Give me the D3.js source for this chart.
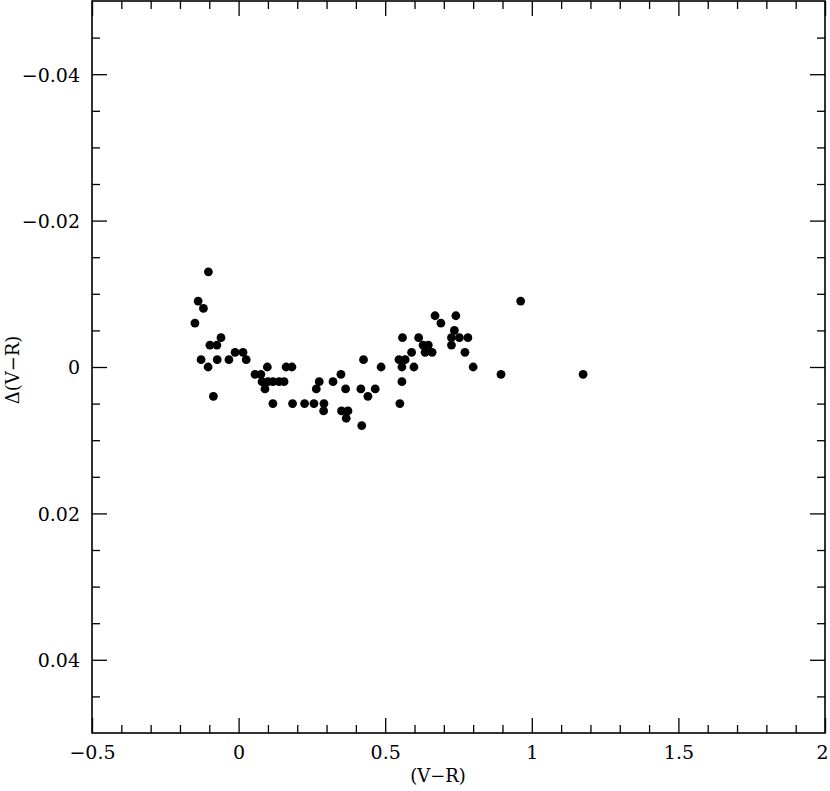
<!DOCTYPE html>
<html>
<head>
<meta charset="utf-8">
<script src="https://cdn.jsdelivr.net/npm/d3@7"></script>
<style>
  html, body { margin: 0; padding: 0; background: #fff; }
  svg { display: block; }
</style>
</head>
<body>
<svg id="chart" width="830" height="791"></svg>
<script>
// ---- data ----
const colorVR = [
  -0.103, -0.138, -0.120, -0.149, -0.060, -0.098, -0.074, -0.012, 0.015, -0.128,
  -0.073, -0.033, 0.026, -0.104, -0.086, 0.098, 0.162, 0.182, 0.056, 0.076,
  0.080, 0.100, 0.117, 0.138, 0.155, 0.090, 0.117, 0.184, 0.225, 0.257,
  0.291, 0.290, 0.275, 0.265, 0.322, 0.349, 0.365, 0.417, 0.466, 0.441,
  0.351, 0.373, 0.367, 0.420, 0.426, 0.486, 0.559, 0.614, 0.629, 0.647,
  0.636, 0.660, 0.590, 0.670, 0.741, 0.690, 0.736, 0.726, 0.753, 0.782,
  0.726, 0.772, 0.547, 0.568, 0.557, 0.598, 0.800, 0.557, 0.550, 0.895,
  0.962, 1.175
];
const deltaVR = [
  -0.013, -0.009, -0.008, -0.006, -0.004, -0.003, -0.003, -0.002, -0.002, -0.001,
  -0.001, -0.001, -0.001, 0.000, 0.004, 0.000, 0.000, 0.000, 0.001, 0.001,
  0.002, 0.002, 0.002, 0.002, 0.002, 0.003, 0.005, 0.005, 0.005, 0.005,
  0.005, 0.006, 0.002, 0.003, 0.002, 0.001, 0.003, 0.003, 0.003, 0.004,
  0.006, 0.006, 0.007, 0.008, -0.001, 0.000, -0.004, -0.004, -0.003, -0.003,
  -0.002, -0.002, -0.002, -0.007, -0.007, -0.006, -0.005, -0.004, -0.004, -0.004,
  -0.003, -0.002, -0.001, -0.001, 0.000, 0.000, 0.000, 0.002, 0.005, 0.001,
  -0.009, 0.001
];
const xMajorTicks = [-0.5, 0, 0.5, 1, 1.5, 2];
const xTickLabels = ["\u22120.5", "0", "0.5", "1", "1.5", "2"];
const yMajorTicks = [-0.04, -0.02, 0, 0.02, 0.04];
const yTickLabels = ["\u22120.04", "\u22120.02", "0", "0.02", "0.04"];
const xTitle = "(V\u2212R)";
const yTitle = "\u0394(V\u2212R)";

// ---- layout ----
const FONT = "'DejaVu Serif', 'Liberation Serif', serif";
const L = 92, R = 825, T = 1, B = 733;
const svg = d3.select("#chart");
const x = d3.scaleLinear().domain([-0.5, 2]).range([L, R]);
const y = d3.scaleLinear().domain([-0.05, 0.05]).range([T, B]);

const xMinor = d3.range(-5, 21).map(i => i / 10).filter(v => !xMajorTicks.some(m => Math.abs(m - v) < 1e-9));
const yMinor = d3.range(-10, 11).map(i => i * 0.005).filter(v => !yMajorTicks.some(m => Math.abs(m - v) < 1e-9) && Math.abs(v) < 0.0499);

const MAJ = 15, MIN = 8;

function styleAxis(g) {
  g.select(".domain").remove();
  g.attr("font-family", FONT);
  g.selectAll(".tick line").attr("stroke", "#000").attr("stroke-width", 1.3);
}

// bottom major ticks with labels
svg.append("g").attr("transform", `translate(0,${B})`)
  .call(d3.axisBottom(x).tickValues(xMajorTicks).tickSize(-MAJ).tickPadding(0)
        .tickFormat((d, i) => xTickLabels[i]))
  .call(styleAxis)
  .call(g => g.selectAll(".tick text").attr("font-size", 19).attr("fill", "#000")
        .attr("y", 26).attr("dy", 0).attr("text-anchor", "middle")
        .attr("dx", (d) => d === 2 ? -3 : 0));
svg.append("g").attr("transform", `translate(0,${B})`)
  .call(d3.axisBottom(x).tickValues(xMinor).tickSize(-MIN).tickFormat(""))
  .call(styleAxis);
// top ticks
svg.append("g").attr("transform", `translate(0,${T})`)
  .call(d3.axisTop(x).tickValues(xMajorTicks).tickSize(-MAJ).tickFormat(""))
  .call(styleAxis);
svg.append("g").attr("transform", `translate(0,${T})`)
  .call(d3.axisTop(x).tickValues(xMinor).tickSize(-MIN).tickFormat(""))
  .call(styleAxis);
// left ticks with labels
svg.append("g").attr("transform", `translate(${L},0)`)
  .call(d3.axisLeft(y).tickValues(yMajorTicks).tickSize(-MAJ).tickPadding(0)
        .tickFormat((d, i) => yTickLabels[i]))
  .call(styleAxis)
  .call(g => g.selectAll(".tick text").attr("font-size", 19).attr("fill", "#000")
        .attr("x", -12).attr("dy", "0.36em").attr("text-anchor", "end"));
svg.append("g").attr("transform", `translate(${L},0)`)
  .call(d3.axisLeft(y).tickValues(yMinor).tickSize(-MIN).tickFormat(""))
  .call(styleAxis);
// right ticks
svg.append("g").attr("transform", `translate(${R},0)`)
  .call(d3.axisRight(y).tickValues(yMajorTicks).tickSize(-MAJ).tickFormat(""))
  .call(styleAxis);
svg.append("g").attr("transform", `translate(${R},0)`)
  .call(d3.axisRight(y).tickValues(yMinor).tickSize(-MIN).tickFormat(""))
  .call(styleAxis);

// frame
svg.append("rect").attr("x", L).attr("y", T).attr("width", R - L).attr("height", B - T)
  .attr("fill", "none").attr("stroke", "#000").attr("stroke-width", 1.6);

// axis titles
svg.append("text").attr("font-family", FONT).attr("x", 438).attr("y", 782)
  .attr("text-anchor", "middle").attr("font-size", 18).text(xTitle);
svg.append("text").attr("font-family", FONT)
  .attr("transform", `translate(19,370) rotate(-90)`)
  .attr("text-anchor", "middle").attr("font-size", 18).text(yTitle);

// points
svg.append("g").selectAll("circle")
  .data(colorVR.map((v, i) => [v, deltaVR[i]]))
  .join("circle")
  .attr("cx", d => x(d[0]))
  .attr("cy", d => y(d[1]))
  .attr("r", 4.4)
  .attr("fill", "#000");
</script>
</body>
</html>
